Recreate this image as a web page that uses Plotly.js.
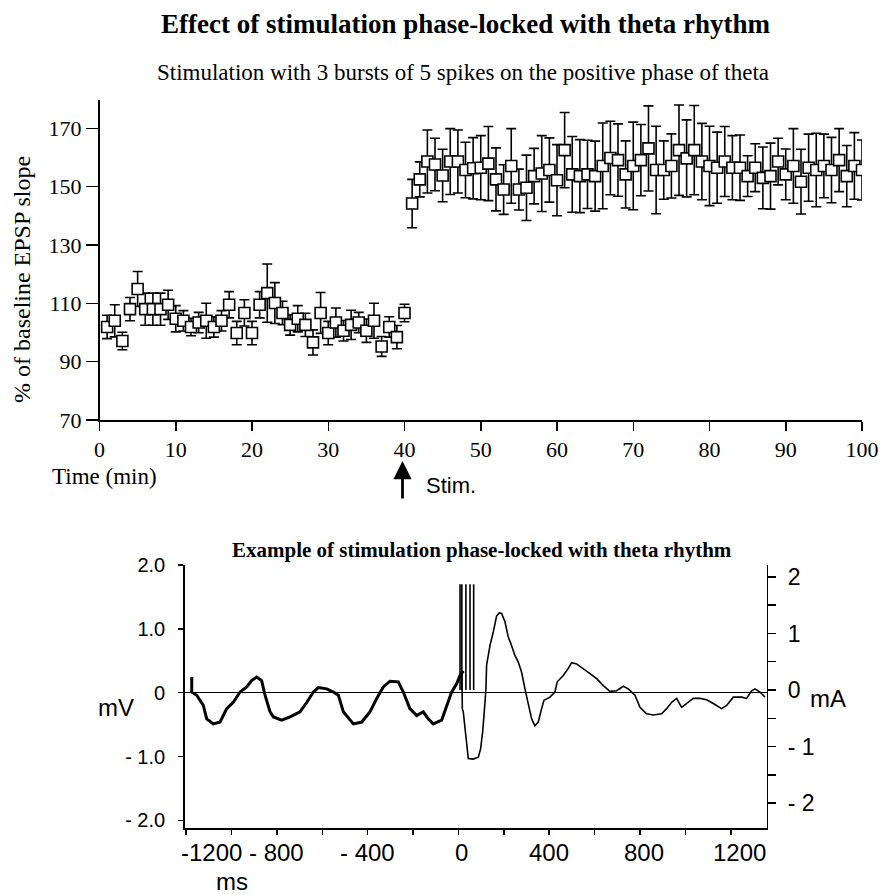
<!DOCTYPE html>
<html>
<head>
<meta charset="utf-8">
<script src="https://cdn.plot.ly/plotly-3.0.1.min.js"></script>
<style>html,body{margin:0;padding:0;background:#fff;}#chart{width:883px;height:895px;}</style>
</head>
<body>
<div id="chart"></div>
<script>
// ---------- Top panel data: % of baseline EPSP slope vs time (min) ----------
const timeMin = [1,2,3,4,5,6,7,8,9,10,11,12,13,14,15,16,17,18,19,20,
  21,22,23,24,25,26,27,28,29,30,31,32,33,34,35,36,37,38,39,40,
  41,42,43,44,45,46,47,48,49,50,51,52,53,54,55,56,57,58,59,60,
  61,62,63,64,65,66,67,68,69,70,71,72,73,74,75,76,77,78,79,80,
  81,82,83,84,85,86,87,88,89,90,91,92,93,94,95,96,97,98,99,100];
const epspSlope = [101.9,104.0,97.1,108.0,114.9,108.0,108.0,108.0,109.5,104.7,
  104.0,101.9,103.4,104.0,101.9,104.0,109.5,99.8,106.7,99.8,
  109.5,113.5,110.1,106.7,102.6,104.7,102.6,96.6,106.7,99.8,
  103.4,100.6,102.6,103.4,100.6,104.0,95.2,101.9,98.4,106.7,
  144.2,152.5,158.6,157.6,153.8,158.6,158.6,155.7,156.3,156.5,
  157.9,152.5,149.0,157.1,149.0,149.6,153.6,154.5,155.7,152.2,
  162.5,154.2,153.6,154.2,153.6,157.1,159.8,159.1,154.2,157.1,
  159.1,163.1,155.7,155.7,157.1,162.5,159.7,162.5,158.6,157.1,
  156.5,158.6,156.5,156.5,153.6,156.5,153.0,153.6,158.6,154.2,
  157.1,151.7,156.5,155.7,157.1,155.7,159.1,153.6,157.1,155.7];
const epspErr = [4,5.5,3,4,6,5.5,5.5,5.5,5,4.5,
  3.5,3,3.5,6,3.5,3.5,4.5,4,4.5,4,
  4.5,10,7,4,3.5,4.5,4,4.3,7,4,
  5,3.5,5,3.5,4,6,3.4,3.5,4,3,
  8.3,6,10.8,9,9,11.3,10.8,9.5,10.5,11,
  12.7,10.8,8.5,12.8,7,11.2,9.5,13,11,12.2,
  12.9,13,12.5,11.7,12,14.7,12.6,12.4,11.5,15,
  12.2,14.6,15,10,11,15.5,13.2,15.3,13.1,13.6,
  12.2,12,11,11.2,7,8.2,10.6,11.3,8,8.7,
  12.8,11.1,11.5,12.6,10.9,11.2,10.8,10.5,11.4,10.3];
const topXTicks = [0,10,20,30,40,50,60,70,80,90,100];
const topYTicks = [70,90,110,130,150,170];
const stimMinute = 40;

// ---------- Bottom panel data: example trace (ms, mV) and stimulation pulses (mA) ----------
const preTime = [-1175,-1175,-1153,-1124,-1109,-1080,-1050,-1021,-992,-962,
  -933,-911,-889,-867,-852,-830,-815,-779,-742,-698,
  -668,-639,-617,-580,-551,-529,-507,-463,-426,-390,
  -360,-331,-302,-265,-243,-214,-184,-155,-133,-111,
  -74,-52,-30,-8,7,22];
const preMV = [0.245,0.01,-0.04,-0.20,-0.41,-0.49,-0.46,-0.25,-0.15,0.01,
  0.09,0.19,0.245,0.19,-0.04,-0.30,-0.38,-0.43,-0.38,-0.30,
  -0.15,0.01,0.08,0.06,0.01,-0.04,-0.30,-0.49,-0.46,-0.30,
  -0.09,0.09,0.18,0.17,0.01,-0.25,-0.36,-0.30,-0.41,-0.49,
  -0.43,-0.20,0.01,0.14,0.27,0.34];
const postTime = [15.4,17,21.3,28.6,36,43.3,65.3,87.4,97.6,106.4,
  113.8,121.1,124,139,153.4,168,179.8,190,205,219.5,
  234,249,263.6,278.3,293,307.6,322.3,337,351.7,366.4,
  376.7,403,425,435.4,461.8,483.8,498.5,520.5,550,579.4,
  608.7,638,667.5,697,726.2,748.3,777.6,799.6,829,858.4,
  895,917,939.2,961.2,983.2,1005.3,1034.6,1064,1093.4,1122.8,
  1159.5,1181.5,1210.9,1247.6,1269.6,1291.6,1306.3,1328.4,1350.4];
const postMV = [0.35,-0.25,-0.30,-0.57,-0.77,-1.03,-1.04,-1.01,-0.88,-0.62,
  -0.30,0.06,0.43,0.74,0.95,1.20,1.25,1.24,1.11,0.87,
  0.74,0.58,0.48,0.32,0.06,-0.15,-0.41,-0.52,-0.46,-0.25,
  -0.12,-0.07,0.01,0.17,0.27,0.38,0.47,0.45,0.38,0.30,
  0.22,0.11,0.02,0.03,0.10,0.06,-0.04,-0.23,-0.33,-0.35,
  -0.33,-0.25,-0.15,-0.09,-0.23,-0.17,-0.09,-0.09,-0.11,-0.17,
  -0.25,-0.20,-0.07,-0.07,-0.09,0.03,0.06,0.01,-0.07];
const stimTimes = [7,15,33,51,67];
const stimAmpMA = 1.87;
const msTicks = [-1200,-1000,-800,-600,-400,-200,0,200,400,600,800,1000,1200];
const msLabelVals = [-1200,-800,-400,0,400,800,1200];
const msLabelText = ['-1200','- 800','- 400','0','400','800','1200'];
const mvTickVals = [-2,-1,0,1,2];
const mvTickText = ['- 2.0','- 1.0','0','1.0','2.0'];
const maTickVals = [-2,-1.5,-1,-0.5,0,0.5,1,1.5,2];
const maTickText = ['- 2','','- 1','','0','','1','','2'];

// ---------- build traces ----------
const serif = 'Liberation Serif, Times New Roman, serif';
const sans = 'Liberation Sans, Arial, sans-serif';

const pulseX = [], pulseY = [];
stimTimes.forEach(t => { pulseX.push(t, t, null); pulseY.push(0, stimAmpMA, null); });

const traces = [
  {
    x: timeMin, y: epspSlope, xaxis: 'x', yaxis: 'y', type: 'scatter', mode: 'markers',
    marker: {symbol: 'square', size: 11, color: '#ffffff', line: {color: '#000', width: 1.6}},
    error_y: {type: 'data', array: epspErr, visible: true, color: '#000', thickness: 1.6, width: 5},
    hoverinfo: 'skip'
  },
  {
    x: preTime, y: preMV, xaxis: 'x2', yaxis: 'y2', type: 'scatter', mode: 'lines',
    line: {color: '#000', width: 3}, hoverinfo: 'skip'
  },
  {
    x: postTime, y: postMV, xaxis: 'x2', yaxis: 'y2', type: 'scatter', mode: 'lines',
    line: {color: '#000', width: 1.6}, hoverinfo: 'skip'
  },
  {
    x: pulseX, y: pulseY, xaxis: 'x2', yaxis: 'y3', type: 'scatter', mode: 'lines',
    line: {color: '#000', width: 1.6}, hoverinfo: 'skip', connectgaps: false
  }
];

const W = 883, H = 895;
const px = v => v / W;
const py = v => 1 - v / H;

const annotations = [
  {text: '<b>Effect of stimulation phase-locked with theta rhythm</b>', xref: 'paper', yref: 'paper',
   x: px(465), y: py(24), xanchor: 'center', yanchor: 'middle', showarrow: false,
   font: {family: serif, size: 27, color: '#000'}},
  {text: 'Stimulation with 3 bursts of 5 spikes on the positive phase of theta', xref: 'paper', yref: 'paper',
   x: px(463), y: py(72), xanchor: 'center', yanchor: 'middle', showarrow: false,
   font: {family: serif, size: 23, color: '#000'}},
  {text: '% of baseline EPSP slope', xref: 'paper', yref: 'paper', textangle: -90,
   x: px(22), y: py(280), xanchor: 'center', yanchor: 'middle', showarrow: false,
   font: {family: serif, size: 24, color: '#000'}},
  {text: 'Time (min)', xref: 'paper', yref: 'paper',
   x: px(50), y: py(476), xanchor: 'left', yanchor: 'middle', showarrow: false,
   font: {family: serif, size: 23, color: '#000'}},
  {text: '', xref: 'x', yref: 'paper', x: stimMinute, y: py(461), ax: 0, ay: 39,
   showarrow: true, arrowhead: 2, arrowsize: 1.3, arrowwidth: 2.8, arrowcolor: '#000', standoff: 0, xshift: -2},
  {text: 'Stim.', xref: 'paper', yref: 'paper',
   x: px(451), y: py(485), xanchor: 'center', yanchor: 'middle', showarrow: false,
   font: {family: sans, size: 22, color: '#000'}},
  {text: '<b>Example of stimulation phase-locked with theta rhythm</b>', xref: 'paper', yref: 'paper',
   x: px(482), y: py(550), xanchor: 'center', yanchor: 'middle', showarrow: false,
   font: {family: serif, size: 21, color: '#000'}},
  {text: 'mV', xref: 'paper', yref: 'paper',
   x: px(116), y: py(707), xanchor: 'center', yanchor: 'middle', showarrow: false,
   font: {family: sans, size: 24, color: '#000'}},
  {text: 'mA', xref: 'paper', yref: 'paper',
   x: px(828), y: py(698), xanchor: 'center', yanchor: 'middle', showarrow: false,
   font: {family: sans, size: 24, color: '#000'}},
  {text: 'ms', xref: 'paper', yref: 'paper',
   x: px(232), y: py(881), xanchor: 'center', yanchor: 'middle', showarrow: false,
   font: {family: sans, size: 24, color: '#000'}}
];
const labelShift = {'-1200': 25, '0': 3, '800': 4, '1200': 9};
msLabelVals.forEach((v, i) => {
  annotations.push({text: msLabelText[i], xref: 'x2', yref: 'paper', x: v, y: py(852),
    xanchor: 'center', yanchor: 'middle', showarrow: false, xshift: labelShift[String(v)] || 0,
    font: {family: sans, size: 24, color: '#000'}});
});

const layout = {
  width: W, height: H,
  margin: {l: 0, r: 0, t: 0, b: 0},
  paper_bgcolor: '#fff', plot_bgcolor: 'rgba(0,0,0,0)',
  showlegend: false,
  xaxis: {
    domain: [px(99.5), px(862)], anchor: 'y', range: [0, 100],
    tickvals: topXTicks, ticks: 'outside', ticklen: 9, tickwidth: 1.5, tickcolor: '#000',
    showline: true, linecolor: '#000', linewidth: 1.5, showgrid: false, zeroline: false,
    tickfont: {family: serif, size: 22, color: '#000'}, ticklabelstandoff: 0
  },
  yaxis: {
    domain: [py(420), py(100)], anchor: 'x', range: [70, 179.7],
    tickvals: topYTicks, ticks: 'outside', ticklen: 12, tickwidth: 1.5, tickcolor: '#000',
    showline: true, linecolor: '#000', linewidth: 1.5, showgrid: false, zeroline: false,
    tickfont: {family: serif, size: 22, color: '#000'}, ticklabelstandoff: 0
  },
  xaxis2: {
    domain: [px(184.7), px(766.7)], anchor: 'y2', range: [-1206, 1358],
    tickvals: msTicks, ticks: 'outside', ticklen: 5, tickwidth: 1.5, tickcolor: '#000',
    showticklabels: false,
    showline: true, linecolor: '#000', linewidth: 1.5, showgrid: false, zeroline: false
  },
  yaxis2: {
    domain: [py(828), py(565)], anchor: 'x2', range: [-2.12, 2.0],
    tickvals: mvTickVals, ticktext: mvTickText, ticks: 'outside', ticklen: 5, tickwidth: 1.5, tickcolor: '#000',
    showline: true, linecolor: '#000', linewidth: 1.5, showgrid: false,
    zeroline: true, zerolinecolor: '#000', zerolinewidth: 1.5,
    tickfont: {family: sans, size: 20, color: '#000'}, ticklabelstandoff: 9
  },
  yaxis3: {
    domain: [py(828), py(565)], anchor: 'x2', overlaying: 'y2', side: 'right', range: [-2.44, 2.21],
    tickvals: maTickVals, ticktext: maTickText, ticks: 'outside', ticklen: 8, tickwidth: 1.5, tickcolor: '#000',
    showline: true, linecolor: '#000', linewidth: 1.5, showgrid: false, zeroline: false,
    tickfont: {family: sans, size: 23, color: '#000'}, ticklabelstandoff: 7
  },
  annotations: annotations
};

Plotly.newPlot('chart', traces, layout, {staticPlot: true, displayModeBar: false});
</script>
</body>
</html>
